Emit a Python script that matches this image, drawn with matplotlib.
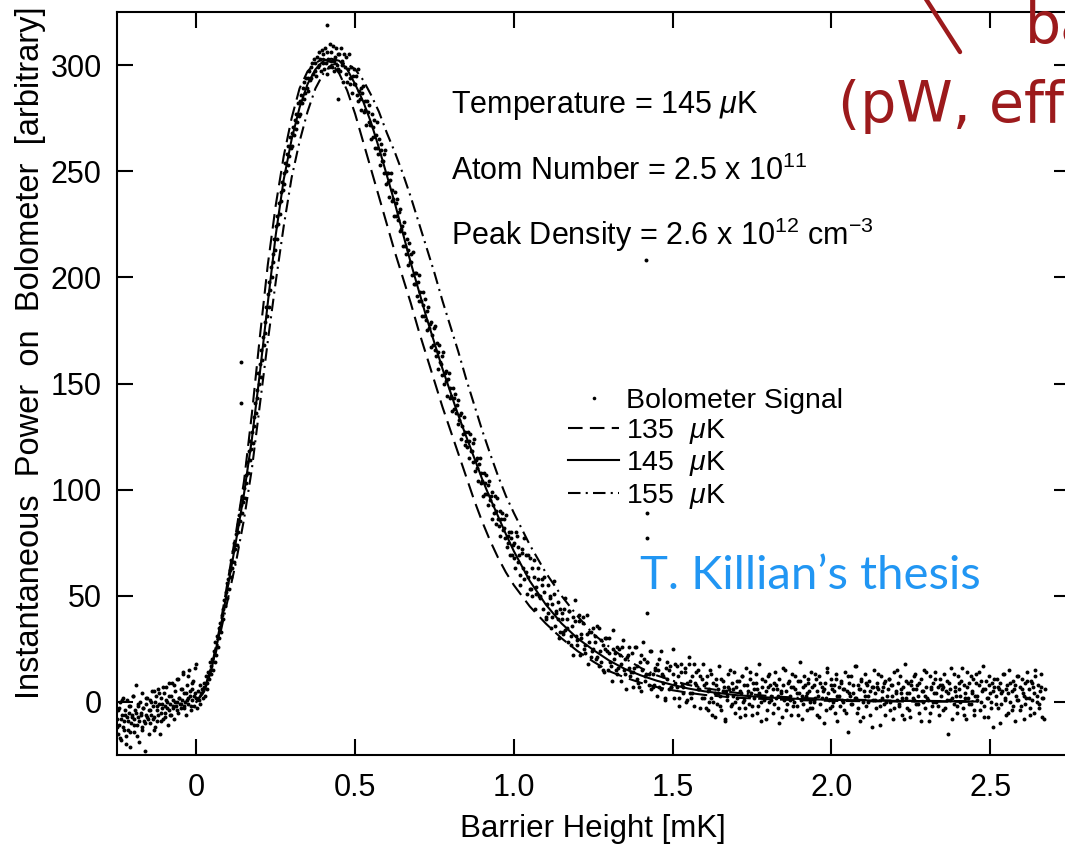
import numpy as np
import matplotlib
matplotlib.use('Agg')
import matplotlib.pyplot as plt
from matplotlib.lines import Line2D

# ---------------- data ----------------
# model curves (x in mK)
curve_x = [0.0, 0.025, 0.05, 0.075, 0.1, 0.125, 0.15, 0.175, 0.2, 0.225, 0.25, 0.275,
           0.3, 0.325, 0.35, 0.375, 0.4, 0.425, 0.45, 0.475, 0.5, 0.525, 0.55, 0.575,
           0.6, 0.625, 0.65, 0.675, 0.7, 0.725, 0.75, 0.775, 0.8, 0.825, 0.85, 0.875,
           0.9, 0.925, 0.95, 0.975, 1.0, 1.05, 1.1, 1.15, 1.2, 1.25, 1.3, 1.35, 1.4,
           1.45, 1.5, 1.55, 1.6, 1.7, 1.8, 1.9, 2.0, 2.2, 2.46]
curve_135 = [0, 6, 18, 36, 58, 80, 104, 136, 172, 206, 234, 257,
             275, 289, 297, 301, 303, 301, 296, 288, 277, 264, 251, 238,
             225, 212, 200, 188, 175, 163, 151, 139, 128, 117, 106, 95,
             85, 76, 68, 61, 55, 45, 37, 30, 24, 19, 14.5, 11.5, 9,
             7, 5.5, 4.3, 3.3, 2.0, 1.3, 0.8, 0.5, 0.2, 0.1]
curve_145 = [0, 5, 17, 34, 55, 76, 98, 124, 155, 188, 220, 246,
             265, 280, 291, 298, 302, 303, 302, 298, 291, 283, 273, 261,
             248, 235, 221, 207, 194, 181, 169, 157, 146, 135, 125, 115,
             105, 96, 87.5, 79, 71, 57, 46, 37, 30, 24.5, 19.5, 15.5, 12.5,
             10, 8, 6.3, 5, 3.2, 2.1, 1.4, 1.0, 0.5, 0.2]
curve_155 = [0, 5, 16, 32, 49, 66, 86, 110, 140, 170, 198, 224,
             247, 264, 278, 289, 296, 300, 301, 300.5, 298, 293, 286, 278,
             268, 259, 249, 238, 226, 214, 202, 189, 177, 165, 152, 140,
             128, 117, 106.5, 97, 89, 74, 61, 50, 40.5, 32, 26, 20.5, 16,
             12.5, 10, 8, 6.5, 4.3, 2.8, 1.9, 1.3, 0.6, 0.3]

# bolometer signal, recorded in barrier-height sweeps: (start, stop) and readings
sweep_ranges = [(-0.25, 0.0), (0.0, 0.45), (0.45, 1.0), (1.0, 1.6), (1.6, 2.675),
                (-0.25, 0.0), (1.0, 1.6), (1.6, 2.675)]
signal_a = [-8, -15, -3, -11, 0, -18, -6, -12, 2, -9, -4, -16, -7, 1, -13, -5, -21, -2, -10, -6,
            3, -8, -14, -4, 8, -11, -2, -7, -19, 0, -5, -12, 4, -3, -9, -23, -1, -6, 2, -8,
            -4, 1, -10, -6, 5, -2, -13, -7, 0, 3, -9, -4, 6, -1, -15, -5, 2, -3, -8, 4,
            -2, -7, 7, 0, -11, -4, 3, -1, -6, 9, -3, 1, -8, 5, -2, 0, 11, -5, 2, -1,
            6, -3, 1, 13, -2, 4, 0, -6, 8, 2, -1, 15, 3, -4, 6, 1, 10, -2, 4, 18]
signal_b = [2, -3, 5, 1, 8, -1, 4, 6, 2, 9,
            7, 3, 12, 9, 6, 14, 11, 19, 13, 17,
            20, 15, 24, 19, 28, 22, 31, 26, 35, 30,
            37, 33, 41, 44, 39, 48, 45, 52, 49, 56,
            58, 53, 62, 59, 67, 63, 71, 66, 75, 72,
            79, 74, 84, 80, 88, 85, 93, 89, 97, 94,
            101, 96, 107, 103, 113, 108, 118, 114, 123, 119,
            127, 122, 134, 130, 141, 136, 147, 143, 155, 150,
            159, 153, 166, 161, 172, 168, 179, 174, 186, 182,
            192, 186, 198, 194, 205, 200, 211, 207, 218, 213,
            224, 218, 229, 225, 235, 230, 240, 236, 245, 241,
            249, 244, 254, 250, 258, 253, 262, 257, 266, 261,
            268, 262, 271, 267, 274, 270, 277, 273, 282, 276,
            283, 277, 286, 282, 289, 284, 292, 287, 294, 289,
            294, 288, 297, 293, 299, 294, 301, 296, 303, 297,
            301, 295, 304, 299, 306, 300, 303, 297, 307, 301,
            305, 298, 308, 301, 296, 306, 303, 299, 310, 302,
            306, 299, 309, 302, 297, 304, 308, 300, 305, 298]
signal_c = [305, 297, 308, 300, 302, 292, 305, 299, 296, 304,
            292, 298, 305, 294, 291, 299, 287, 295, 298, 291,
            291, 295, 286, 298, 283, 288, 284, 289, 279, 287,
            290, 278, 283, 279, 272, 283, 278, 273, 281, 272,
            265, 277, 271, 266, 274, 261, 267, 273, 261, 258,
            265, 253, 260, 263, 255, 255, 258, 249, 260, 244,
            249, 245, 249, 238, 246, 249, 236, 241, 237, 229,
            240, 235, 229, 237, 227, 231, 222, 232, 223, 224,
            215, 221, 226, 215, 211, 218, 206, 213, 216, 207,
            207, 211, 201, 212, 197, 202, 197, 202, 191, 198,
            201, 189, 193, 189, 182, 193, 187, 182, 190, 180,
            184, 175, 186, 176, 178, 167, 179, 173, 168, 176,
            177, 166, 163, 169, 157, 165, 168, 160, 159, 163,
            154, 165, 150, 155, 151, 156, 144, 152, 155, 143,
            148, 144, 137, 148, 143, 138, 145, 136, 140, 131,
            142, 133, 135, 124, 136, 130, 126, 134, 121, 127,
            123, 120, 127, 115, 123, 126, 118, 118, 122, 113,
            124, 109, 114, 110, 115, 104, 112, 115, 103, 108,
            104, 97, 108, 103, 98, 107, 98, 102, 93, 104,
            95, 97, 86, 99, 93, 89, 97, 84, 90, 96,
            86, 83, 90, 78, 86, 89, 81, 82, 86, 77,
            88, 73, 78, 75, 80, 69, 77, 80, 69, 74]
signal_d = [75, 63, 78, 66, 69, 55, 70, 63, 58, 69, 51, 59,
            68, 53, 50, 59, 44, 54, 58, 50, 50, 55, 44, 59,
            40, 46, 42, 49, 35, 46, 51, 36, 43, 39, 30, 44,
            39, 33, 44, 34, 39, 28, 43, 31, 36, 22, 38, 31,
            27, 38, 22, 30, 40, 25, 23, 32, 18, 28, 33, 24,
            25, 31, 20, 36, 17, 24, 19, 27, 14, 25, 30, 15,
            23, 19, 10, 25, 20, 15, 26, 16, 22, 10, 26, 15,
            20, 6, 22, 16, 12, 23, 7, 16, 26, 11, 9, 19,
            5, 15, 20, 12, 13, 19, 8, 24, 6, 13, 8, 16,
            3, 15, 20, 6, 13, 9, 1, 16, 11, 6, 17, 7,
            13, 2, 18, 7, 12, -2, 14, 8, 4, 16, 0, 9,
            18, 4, 2, 12, -2, 9, 14, 6, 6, 12, 2, 18]
signal_e = [8, -3, 12, 5, 0, 15, 2, -6, 9, 4, 11, -1, 6, 17, 3, -4, 10, 7, -8, 5,
            1, 13, 6, -2, 9, 3, 14, -5, 7, 2, 10, -7, 4, 12, 0, 8, -3, 16, 5, -1,
            11, 4, -6, 9, 2, 13, 6, -2, 18, 3, -9, 7, 1, 10, 5, -4, 12, 0, 8, 3,
            -5, 9, 14, 2, 6, -3, 11, 4, -7, 8, 1, 15, 5, -1, 10, 3, -6, 13, 7, 0,
            6, -2, 10, 4, 19, 1, -8, 7, 12, 3, -4, 9, 5, 0, 14, -3, 8, 2, 11, -6,
            3, 12, -1, 7, 5, -10, 9, 2, 16, 4, -3, 11, 6, 0, 8, -5, 13, 3, 7, -2,
            10, 1, 6, -4, 14, 5, -14, 9, 3, 12, -1, 4, 17, 2, -5, 8, 6, -9, 11, 0,
            5, 13, -2, 8, 3, 10, -6, 7, 1, 15, 4, -3, 9, 6, -11, 12, 2, 7, -1, 10,
            0, 6, 11, -4, 8, 3, -8, 14, 5, 1, 9, -2, 12, 4, -6, 7, 18, 2, -3, 9,
            4, -7, 10, 6, 1, 13, -1, 8, 3, -5, 11, 5, 0, 15, -3, 7, 2, -9, 12, 6,
            -2, 9, 4, 14, 0, 7, -6, 11, 3, 8, -4, 13, 5, 1, -15, 9, 6, 16, 2, -1,
            7, 3, -5, 12, 6, 0, 10, -3, 8, 4, -8, 14, 2, 9, -1, 5, 11, -6, 3, 13,
            1, 8, -4, 10, 5, 17, -2, 6, 2, -7, 12, 4, 0, 9, -12, 7, 3, 11, -3, 6,
            9, -1, 5, 13, 2, -6, 8, 4, 15, 0, -4, 10, 6, -9, 3, 12, 1, 7, -2, 11,
            4, -8, 9, 2, 14, 6, -3, 10, 1, 7, -5, 12, 3, 8, -1, 5, 13, -7, 2, 6]
signal_a2 = [-12, -4, -17, -8, 1, -13, -6, -20, -9, -2, -14, -7, 3, -11, -5, -16, -1, -9, -6, -13,
             -3, -10, 2, -7, -15, -4, 0, -8, 5, -12, -2, -6, 4, -9, -1, 7, -5, 1, -3, 9,
             -6, 3, -2, 8, 0, -4, 11, 2, -1, 6, 14, -3, 4, 1, 12, 5, -2, 9, 3, 16]
signal_d2 = [68, 80, 73, 60, 72, 77, 61, 69, 53, 63, 67, 51,
             63, 49, 58, 52, 39, 55, 50, 40, 57, 42, 47, 33,
             42, 32, 49, 35, 43, 27, 40, 48, 29, 41, 32, 37,
             27, 41, 33, 21, 35, 28, 21, 35, 29, 15, 30, 24,
             30, 17, 34, 23, 13, 25, 18, 29, 13, 21, 26, 14,
             14, 26, 17, 7, 22, 28, 10, 19, 13, 24, 7, 15,
             18, 7, 24, 12, 2, 19, 15, 7, 25, 9, 17, 2,
             18, 7, 14, 1, 21, 10, 4, 18, 8, 15, -3, 11]
signal_e2 = [2, 9, -4, 6, 13, 0, -7, 8, 4, -2, 11, 5, -9, 3, 7, 15, -1, 6, 0, 10,
             -3, 5, 12, 1, -6, 8, 3, 14, -2, 6, 9, -5, 4, 0, 11, 2, -8, 7, 13, 1,
             6, -1, 8, 3, -10, 5, 16, 2, -4, 9, 1, 7, -2, 12, 4, -6, 10, 3, -1, 8,
             4, 11, -3, 7, 0, 13, 5, -7, 9, 2, 6, -4, 14, 1, 8, -2, 5, 11, -9, 3,
             9, 0, 6, -5, 12, 4, -1, 8, 2, 17, -3, 6, 10, -7, 3, 9, 0, 5, -12, 7,
             1, 7, 13, -2, 5, 9, -6, 3, 11, 0, 8, -3, 4, 15, -1, 6, 2, -8, 10, 4,
             -4, 8, 2, 12, 6, -1, 9, -9, 5, 3, 14, 1, -5, 7, 0, 11, 4, -2, 8, 6,
             7, -3, 10, 4, 1, -8, 13, 5, -2, 9, 3, 16, -6, 2, 7, -1, 12, 4, -4, 9,
             3, 14, 0, 6, -7, 10, 2, 8, -3, 5, 11, -1, 7, -10, 4, 13, 1, 6, -5, 9,
             5, -2, 8, 1, 12, -4, 6, 3, -1, 10, 2, -6, 9, 4, 15, 0, -3, 7, 2, -8]
signals = [signal_a, signal_b, signal_c, signal_d, signal_e,
           signal_a2, signal_d2, signal_e2]
# isolated glitch points
glitch_x = [0.141, 0.141, 0.41, 0.445, 1.416, 1.42, 1.42, 1.42]
glitch_y = [160, 141, 319, 284, 208, 89, 77, 42]

x_ticks = [0, 0.5, 1.0, 1.5, 2.0, 2.5]
x_ticklabels = ['0', '0.5', '1.0', '1.5', '2.0', '2.5']
y_ticks = [0, 50, 100, 150, 200, 250, 300]
y_ticklabels = ['0', '50', '100', '150', '200', '250', '300']

# ---------------- fonts ----------------
FONT = 'Liberation Sans'
plt.rcParams['font.family'] = [FONT, 'DejaVu Sans']
plt.rcParams['mathtext.fontset'] = 'custom'
plt.rcParams['mathtext.rm'] = FONT
plt.rcParams['mathtext.it'] = FONT + ':italic'
plt.rcParams['mathtext.bf'] = FONT + ':bold'
plt.rcParams['mathtext.sf'] = FONT

W, H = 1065, 844
fig = plt.figure(figsize=(W / 100, H / 100), dpi=100)
ax = fig.add_axes([117 / W, 89 / H, 952.5 / W, 743 / H])

MS = 8
for (start, stop), vals in zip(sweep_ranges, signals):
    xs = np.linspace(start, stop, len(vals), endpoint=False)
    ax.scatter(xs, vals, s=MS, c='k', linewidths=0, zorder=2)
ax.scatter(glitch_x, glitch_y, s=MS, c='k', linewidths=0, zorder=2)

lw = 1.5
ax.plot(curve_x, curve_135, color='k', lw=lw, dashes=(7, 3.5), zorder=3)
ax.plot(curve_x, curve_145, color='k', lw=lw, zorder=3)
ax.plot(curve_x, curve_155, color='k', lw=lw, dashes=(6, 2.5, 1, 2.5), zorder=3)

ax.set_xlim(-0.25, 2.75)
ax.set_ylim(-25, 325)
ax.set_xticks(x_ticks)
ax.set_xticklabels(x_ticklabels)
ax.set_yticks(y_ticks)
ax.set_yticklabels(y_ticklabels)
ax.tick_params(direction='in', length=11.5, width=1.5, top=True, right=True,
               labelsize=22)
ax.tick_params(axis='x', pad=13)
ax.tick_params(axis='y', pad=11)
for sp in ax.spines.values():
    sp.set_linewidth(1.5)

ax.set_xlabel('Barrier Height [mK]', fontsize=22.5, labelpad=8)
ax.set_ylabel('Instantaneous  Power  on  Bolometer  [arbitrary]', fontsize=23.5)
ax.yaxis.set_label_coords(-0.075, 0.541)

tk = dict(fontsize=22, va='baseline', ha='left')
ax.text(0.803, 277.4, r'Temperature = 145 $\mu$K', **tk)
ax.text(0.803, 245.8, r'Atom Number = 2.5 x 10$^{11}$', **tk)
ax.text(0.803, 215.2, r'Peak Density = 2.6 x 10$^{12}$ cm$^{-3}$', **tk)

handles = [Line2D([], [], marker='o', ls='none', ms=2.6, mew=0, color='k'),
           Line2D([], [], color='k', lw=lw, dashes=(7, 3.5)),
           Line2D([], [], color='k', lw=lw),
           Line2D([], [], color='k', lw=lw, dashes=(6, 2.5, 1, 2.5))]
labels = ['Bolometer Signal', r'135  $\mu$K', r'145  $\mu$K', r'155  $\mu$K']
ax.legend(handles, labels, loc='upper left', bbox_to_anchor=(0.4735, 0.4945),
          frameon=False, fontsize=20.5, handlelength=1.8, handletextpad=0.25,
          labelspacing=0.12, borderpad=0, borderaxespad=0)

# overlay annotations
fig.text(640 / W, 1 - 589 / H, 'T. Killian\u2019s thesis', family='Lato',
         fontsize=34, color='#2196F3', va='baseline', ha='left')
red = '#9C1A1C'
fig.text(838 / W, 1 - 122 / H, '(pW, efficiency)', family='DejaVu Sans',
         fontsize=41, color=red, va='baseline', ha='left')
fig.text(1025 / W, 1 - 43 / H, 'ba', family='DejaVu Sans',
         fontsize=41, color=red, va='baseline', ha='left')
fig.add_artist(Line2D([924 / W, 960 / W], [1 + 4 / H, 1 - 52 / H],
                      transform=fig.transFigure, color=red, lw=3.2,
                      solid_capstyle='round'))

fig.savefig('out.png', dpi=100)
